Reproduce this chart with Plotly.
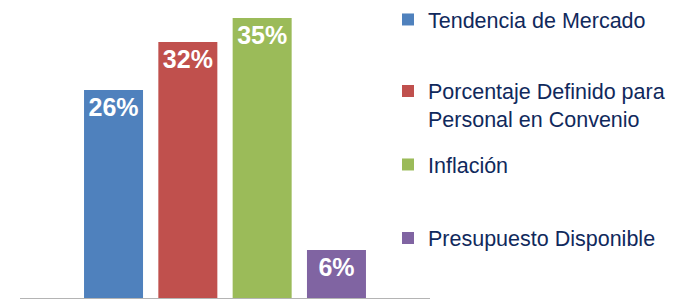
import plotly.graph_objects as go

series_names = [
    "Tendencia de Mercado",
    "Porcentaje Definido para<br>Personal en Convenio",
    "Inflación",
    "Presupuesto Disponible",
]
series_values = [26, 32, 35, 6]
series_colors = ["#4F81BD", "#C0504D", "#9BBB59", "#8064A2"]
category = ["Factores"]

W, H = 673, 299
FONT = "Liberation Sans, Arial, sans-serif"

fig = go.Figure()
legend_ids = ["legend", "legend2", "legend3", "legend4"]
for name, val, col, lg in zip(series_names, series_values, series_colors, legend_ids):
    fig.add_trace(go.Bar(
        x=category, y=[val], name=name,
        marker=dict(color=col, line=dict(width=0)),
        text=[f"{val}%"], textposition="inside", insidetextanchor="end",
        textangle=0,
        textfont=dict(color="white", size=25, family=FONT, weight="bold"),
        legend=lg, hoverinfo="skip",
    ))

legend_centers_px = [19.5, 105, 164.5, 238]
legend_common = dict(
    xref="container", yref="container", x=388 / W, xanchor="left",
    yanchor="middle", bgcolor="rgba(0,0,0,0)", borderwidth=0,
    font=dict(family=FONT, size=21.5, color="#10295c"), valign="top",
)
layout_legends = {}
for lg, cy in zip(legend_ids, legend_centers_px):
    layout_legends[lg] = dict(legend_common, y=1 - cy / H)

fig.update_layout(
    width=W, height=H,
    margin=dict(l=20, r=W - 430, t=10, b=1, pad=0, autoexpand=False),
    paper_bgcolor="white", plot_bgcolor="white",
    barmode="group", bargap=0.275, bargroupgap=0.206,
    showlegend=True,
    xaxis=dict(range=[-0.5, 0.5], showticklabels=False, showgrid=False,
               zeroline=False, showline=True, linecolor="#b4b4b4",
               linewidth=1.5, ticks=""),
    yaxis=dict(range=[0, 36], visible=False, showgrid=False, zeroline=False),
    **layout_legends,
)

fig.write_html(
    "out.html",
    config={"displayModeBar": False},
    post_script="document.body.style.margin='0';document.body.style.padding='0';",
)
